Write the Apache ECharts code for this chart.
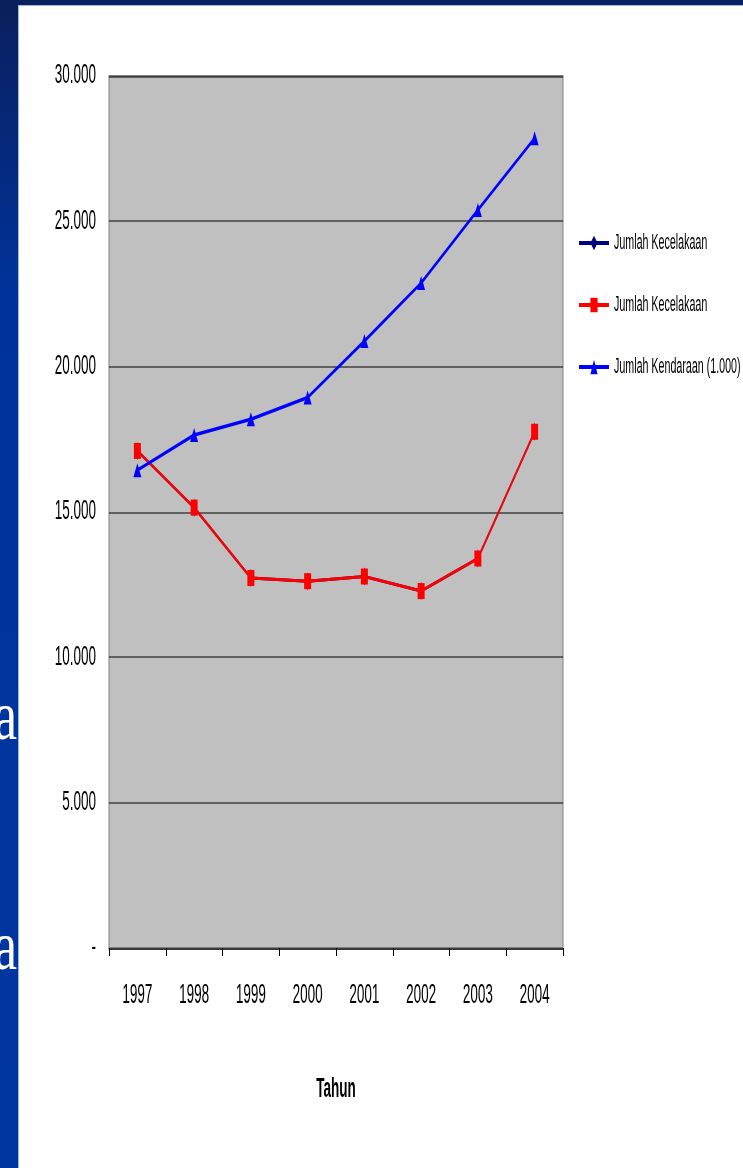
<!DOCTYPE html>
<html>
<head>
<meta charset="utf-8">
<script src="https://cdn.jsdelivr.net/npm/echarts@6/dist/echarts.min.js"></script>
<style>
  html, body { margin: 0; padding: 0; width: 743px; height: 1168px; overflow: hidden; }
  body { position: relative; background: linear-gradient(to bottom, #0a1f5c 0%, #00339a 25%, #0036a0 100%); }
  #panel { position: absolute; left: 18px; top: 5px; right: 0; bottom: 0; background: #ffffff; border-left: 1px solid #9fb4e0; border-top: 1px solid #9fb4e0; }
  .slideText { position: absolute; color: #ffffff; font-family: "Liberation Serif", "DejaVu Serif", serif; font-size: 52px; line-height: 52px; transform: scaleY(1.35); transform-origin: left top; }
  #chart { position: absolute; left: 0; top: 0; width: 743px; height: 584px; transform: scaleY(2); transform-origin: 0 0; }
</style>
</head>
<body>
<div class="slideText" style="left:-6px; top:681px;">a</div>
<div class="slideText" style="left:-6px; top:911px;">a</div>
<div id="panel"></div>
<div id="chart"></div>
<script>
const years = ['1997', '1998', '1999', '2000', '2001', '2002', '2003', '2004'];
const kecelakaanNavy = [17100, 15150, 12730, 12620, 12780, 12280, 13400, 17760];
const kecelakaanRed = [17100, 15150, 12730, 12620, 12780, 12280, 13400, 17760];
const kendaraan = [16440, 17650, 18190, 18940, 20880, 22880, 25390, 27860];
const yTicks = { min: 0, max: 30000, interval: 5000 };

const FONT = '"Liberation Sans Narrow", "Arial Narrow", "Liberation Sans", sans-serif';

function fmt(v) {
  if (v === 0) return '-';
  return String(v).replace(/\B(?=(\d{3})+(?!\d))/g, '.');
}

const chart = echarts.init(document.getElementById('chart'), null, { devicePixelRatio: 2, renderer: 'canvas' });
chart.setOption({
  animation: false,
  backgroundColor: 'transparent',
  textStyle: { fontFamily: FONT },
  grid: {
    left: 109, right: 180, top: 38, bottom: 110,
    show: true, backgroundColor: '#C0C0C0', borderColor: '#808080', borderWidth: 1
  },
  legend: {
    orient: 'vertical', left: 573, top: 111,
    itemWidth: 30, itemHeight: 9, itemGap: 20,
    textStyle: { fontFamily: FONT, fontSize: 10.7, color: '#000' },
    data: ['Jumlah Kecelakaan', 'Jumlah Kecelakaan ', 'Jumlah Kendaraan (1.000)']
  },
  xAxis: {
    type: 'category', data: years, boundaryGap: true,
    name: 'Tahun', nameLocation: 'middle', nameGap: 64,
    nameTextStyle: { fontFamily: FONT, fontSize: 13.5, fontWeight: 'bold', color: '#000' },
    axisLine: { show: true, lineStyle: { color: '#3a3a3a', width: 1 } },
    axisTick: { show: true, length: 4, lineStyle: { color: '#000', width: 1 } },
    axisLabel: { fontFamily: FONT, fontSize: 13.5, color: '#000', margin: 17 },
    splitLine: { show: false }
  },
  yAxis: {
    type: 'value', min: yTicks.min, max: yTicks.max, interval: yTicks.interval,
    axisLine: { show: false }, axisTick: { show: false },
    axisLabel: { fontFamily: FONT, fontSize: 13.5, color: '#000', margin: 13, formatter: fmt },
    splitLine: { show: true, lineStyle: { color: '#000', width: 0.5 } }
  },
  series: [
    {
      name: 'Jumlah Kecelakaan', type: 'line', data: kecelakaanNavy,
      symbol: 'diamond', symbolSize: [6, 9], color: '#000080',
      lineStyle: { color: '#000080', width: 1.5 }, itemStyle: { color: '#000080' }
    },
    {
      name: 'Jumlah Kecelakaan ', type: 'line', data: kecelakaanRed,
      symbol: 'rect', symbolSize: [7, 8], color: '#FF0000',
      lineStyle: { color: '#FF0000', width: 1.5 }, itemStyle: { color: '#FF0000' }
    },
    {
      name: 'Jumlah Kendaraan (1.000)', type: 'line', data: kendaraan,
      symbol: 'triangle', symbolSize: [8, 7], color: '#0000FF',
      lineStyle: { color: '#0000FF', width: 1.75 }, itemStyle: { color: '#0000FF' }
    }
  ]
});
</script>
</body>
</html>
